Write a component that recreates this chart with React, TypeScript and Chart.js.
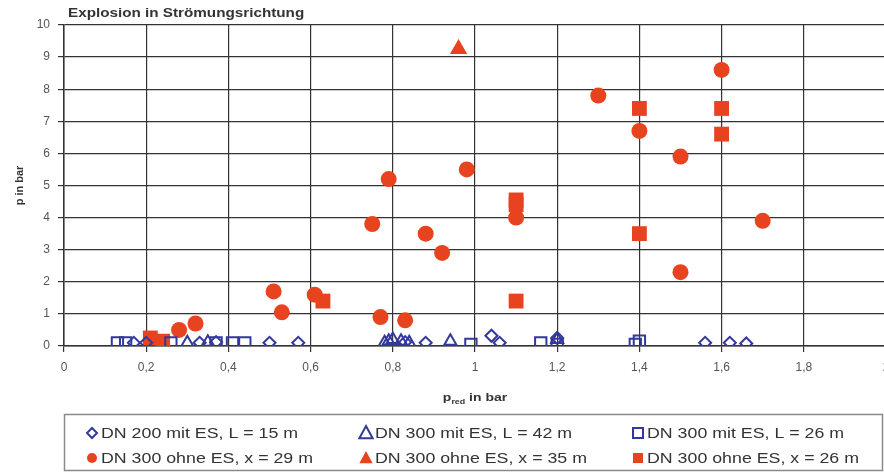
import React, { useEffect, useRef } from 'react';
import { Chart, registerables } from 'chart.js';

Chart.register(...registerables);

const chartTitle = 'Explosion in Strömungsrichtung';
const yAxisTitle = 'p in bar';
const xTickLabels = ['0', '0,2', '0,4', '0,6', '0,8', '1', '1,2', '1,4', '1,6', '1,8', '2'];
const yTickLabels = ['0', '1', '2', '3', '4', '5', '6', '7', '8', '9', '10'];

// DN 200 mit ES, L = 15 m (hollow diamonds)
const dn200MitES_x = [0.17, 0.2, 0.33, 0.37, 0.5, 0.57, 0.83, 0.88, 1.04, 1.06, 1.2, 1.56, 1.62, 1.66];
const dn200MitES_y = [0.1, 0.1, 0.1, 0.12, 0.1, 0.1, 0.12, 0.1, 0.32, 0.1, 0.25, 0.1, 0.1, 0.08];

// DN 300 mit ES, L = 42 m (hollow triangles)
const dn300MitES42_x = [0.3, 0.35, 0.78, 0.79, 0.8, 0.82, 0.84, 0.94, 1.2];
const dn300MitES42_y = [0.1, 0.12, 0.1, 0.15, 0.2, 0.15, 0.1, 0.15, 0.2];

// DN 300 mit ES, L = 26 m (hollow squares)
const dn300MitES26_x = [0.13, 0.15, 0.26, 0.37, 0.41, 0.44, 0.99, 1.16, 1.2, 1.39, 1.4];
const dn300MitES26_y = [0.1, 0.1, 0.1, 0.1, 0.1, 0.1, 0.05, 0.1, 0.05, 0.05, 0.15];

// DN 300 ohne ES, x = 29 m (filled circles)
const dn300Ohne29_x = [0.28, 0.32, 0.51, 0.53, 0.61, 0.75, 0.79, 0.77, 0.83, 0.88, 0.92, 0.98, 1.1, 1.3, 1.4, 1.5, 1.5, 1.6, 1.7];
const dn300Ohne29_y = [0.5, 0.7, 1.7, 1.05, 1.6, 3.8, 5.2, 0.9, 0.8, 3.5, 2.9, 5.5, 4.0, 7.8, 6.7, 5.9, 2.3, 8.6, 3.9];

// DN 300 ohne ES, x = 35 m (filled triangle)
const dn300Ohne35_x = [0.96];
const dn300Ohne35_y = [9.25];

// DN 300 ohne ES, x = 26 m (filled squares)
const dn300Ohne26_x = [0.21, 0.24, 0.63, 1.1, 1.1, 1.1, 1.4, 1.4, 1.6, 1.6];
const dn300Ohne26_y = [0.25, 0.15, 1.4, 4.55, 4.4, 1.4, 7.4, 3.5, 7.4, 6.6];

const seriesLabels = [
  'DN 200 mit ES, L = 15 m',
  'DN 300 mit ES, L = 42 m',
  'DN 300 mit ES, L = 26 m',
  'DN 300 ohne ES, x = 29 m',
  'DN 300 ohne ES, x = 35 m',
  'DN 300 ohne ES, x = 26 m',
];

const BLUE = '#33389c';
const RED = '#e8431f';
const FONT = '"Liberation Sans", Arial, sans-serif';
const STRETCH = 1.27;

const zip = (xs: number[], ys: number[]) => xs.map((x, i) => ({ x, y: ys[i] }));

function textStretched(ctx: CanvasRenderingContext2D, text: string, x: number, y: number, sx: number) {
  ctx.save();
  ctx.translate(x, y);
  ctx.scale(sx, 1);
  ctx.fillText(text, 0, 0);
  ctx.restore();
}

function drawMarker(ctx: CanvasRenderingContext2D, style: string, x: number, y: number, r: number, color: string, filled: boolean) {
  ctx.save();
  ctx.beginPath();
  if (style === 'circle') {
    ctx.arc(x, y, r, 0, Math.PI * 2);
  } else if (style === 'rectRot') {
    ctx.moveTo(x, y - r);
    ctx.lineTo(x + r, y);
    ctx.lineTo(x, y + r);
    ctx.lineTo(x - r, y);
    ctx.closePath();
  } else if (style === 'triangle') {
    ctx.moveTo(x, y - r);
    ctx.lineTo(x + r * 0.95, y + r * 0.75);
    ctx.lineTo(x - r * 0.95, y + r * 0.75);
    ctx.closePath();
  } else {
    ctx.rect(x - r, y - r, 2 * r, 2 * r);
  }
  if (filled) {
    ctx.fillStyle = color;
    ctx.fill();
  } else {
    ctx.strokeStyle = color;
    ctx.lineWidth = 2;
    ctx.stroke();
  }
  ctx.restore();
}

const overlayPlugin = {
  id: 'overlay',
  afterDraw(chart: any) {
    const ctx: CanvasRenderingContext2D = chart.ctx;
    const area = chart.chartArea;
    ctx.save();
    // Title
    ctx.fillStyle = '#333';
    ctx.font = `bold 12px ${FONT}`;
    ctx.textAlign = 'left';
    ctx.textBaseline = 'middle';
    textStretched(ctx, chartTitle, 68, 14, STRETCH);

    // Y title
    ctx.save();
    ctx.translate(20, (area.top + area.bottom) / 2);
    ctx.rotate(-Math.PI / 2);
    ctx.textAlign = 'center';
    ctx.font = `bold 11px ${FONT}`;
    ctx.fillText(yAxisTitle, 0, 0);
    ctx.restore();

    // X title with subscript
    const cx = (area.left + area.right) / 2;
    const ty = 398;
    ctx.font = `bold 11px ${FONT}`;
    const wP = ctx.measureText('p').width * STRETCH;
    const wRest = ctx.measureText(' in bar').width * STRETCH;
    ctx.font = `bold 7px ${FONT}`;
    const wSub = ctx.measureText('red').width * STRETCH;
    const total = wP + wSub + wRest;
    let sx = cx - total / 2;
    ctx.textAlign = 'left';
    ctx.font = `bold 11px ${FONT}`;
    textStretched(ctx, 'p', sx, ty, STRETCH);
    sx += wP;
    ctx.font = `bold 7px ${FONT}`;
    textStretched(ctx, 'red', sx, ty + 4, STRETCH);
    sx += wSub;
    ctx.font = `bold 11px ${FONT}`;
    textStretched(ctx, ' in bar', sx, ty, STRETCH);

    // Legend box
    ctx.strokeStyle = '#8a8a8a';
    ctx.lineWidth = 1.5;
    ctx.strokeRect(64.5, 414.5, 818, 56);

    const colX = [92, 366, 638];
    const rowY = [433, 458];
    ctx.font = `14px ${FONT}`;
    chart.data.datasets.forEach((ds: any, i: number) => {
      const col = i % 3;
      const row = Math.floor(i / 3);
      const mx = colX[col];
      const my = rowY[row];
      const filled = ds.backgroundColor !== 'transparent';
      const color = filled ? ds.backgroundColor : ds.borderColor;
      let r = 5;
      if (ds.pointStyle === 'triangle') r = 7;
      drawMarker(ctx, ds.pointStyle, mx, my, r, color, filled);
      ctx.fillStyle = '#333';
      ctx.textAlign = 'left';
      ctx.textBaseline = 'middle';
      textStretched(ctx, ds.label, mx + 9, my + 1, STRETCH);
    });
    ctx.restore();
  },
};

export default function App() {
  const canvasRef = useRef<HTMLCanvasElement | null>(null);

  useEffect(() => {
    if (!canvasRef.current) return;
    const hollow = { backgroundColor: 'transparent', borderColor: BLUE, borderWidth: 2 };
    const solid = { backgroundColor: RED, borderColor: RED, borderWidth: 0 };
    const chart = new Chart(canvasRef.current, {
      type: 'scatter',
      data: {
        datasets: [
          { label: seriesLabels[0], data: zip(dn200MitES_x, dn200MitES_y), pointStyle: 'rectRot', pointRadius: 6, ...hollow },
          { label: seriesLabels[1], data: zip(dn300MitES42_x, dn300MitES42_y), pointStyle: 'triangle', pointRadius: 7, ...hollow },
          { label: seriesLabels[2], data: zip(dn300MitES26_x, dn300MitES26_y), pointStyle: 'rect', pointRadius: 8, ...hollow },
          { label: seriesLabels[3], data: zip(dn300Ohne29_x, dn300Ohne29_y), pointStyle: 'circle', pointRadius: 8, ...solid },
          { label: seriesLabels[4], data: zip(dn300Ohne35_x, dn300Ohne35_y), pointStyle: 'triangle', pointRadius: 10, ...solid },
          { label: seriesLabels[5], data: zip(dn300Ohne26_x, dn300Ohne26_y), pointStyle: 'rect', pointRadius: 10.5, ...solid },
        ] as any,
      },
      options: {
        animation: false,
        responsive: false,
        devicePixelRatio: 1,
        layout: { padding: { top: 25, left: 0, right: 14, bottom: 0 } },
        plugins: {
          legend: { display: false },
          title: { display: false },
          tooltip: { enabled: false },
        },
        scales: {
          x: {
            type: 'linear',
            min: 0,
            max: 2,
            ticks: {
              stepSize: 0.2,
              padding: 8,
              color: '#555',
              font: { family: FONT, size: 12 },
              maxRotation: 0,
              autoSkip: false,
              callback: (_v: any, i: number) => xTickLabels[i],
            },
            grid: { color: '#333', lineWidth: 1.2, tickLength: 6, drawTicks: true },
            border: { color: '#333', width: 1.5 },
            afterFit: (scale: any) => { scale.height = 127; },
          },
          y: {
            type: 'linear',
            min: 0,
            max: 10,
            ticks: {
              stepSize: 1,
              padding: 8,
              color: '#555',
              font: { family: FONT, size: 12 },
              callback: (_v: any, i: number) => yTickLabels[i],
            },
            grid: { color: '#333', lineWidth: 1.2, tickLength: 6, drawTicks: true },
            border: { color: '#333', width: 1.5 },
            afterFit: (scale: any) => { scale.width = 64; },
          },
        },
      } as any,
      plugins: [overlayPlugin],
    });
    return () => chart.destroy();
  }, []);

  return (
    <div style={{ position: 'fixed', left: 0, top: 0, width: 884, height: 473, overflow: 'hidden', background: '#fff' }}>
      <canvas ref={canvasRef} width={900} height={473} style={{ width: 900, height: 473, display: 'block' }} />
    </div>
  );
}
